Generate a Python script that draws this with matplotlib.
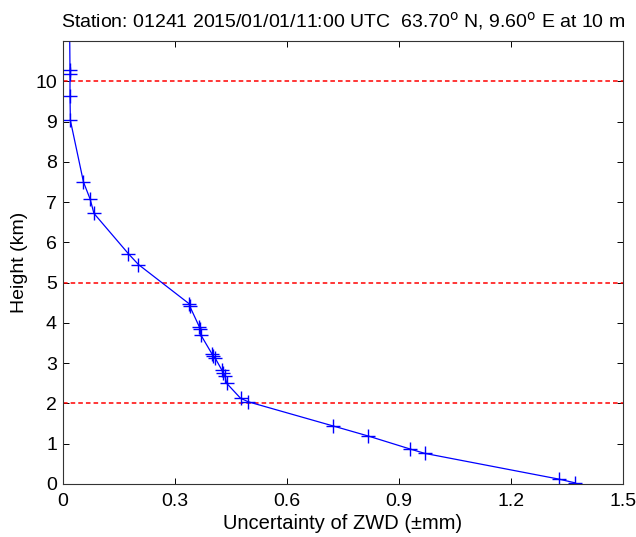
import matplotlib
matplotlib.use("Agg")
import matplotlib.pyplot as plt

# ZWD uncertainty profile
height_km = [11.3, 10.27, 10.18, 9.63, 9.03, 7.50, 7.07, 6.72, 5.72, 5.45,
             4.48, 4.42, 3.90, 3.86, 3.70, 3.24, 3.18, 3.13, 2.83, 2.75,
             2.69, 2.50, 2.13, 2.04, 1.44, 1.19, 0.87, 0.76, 0.12, 0.03]
sigma_zwd = [0.019, 0.020, 0.020, 0.020, 0.021, 0.056, 0.074, 0.084, 0.176, 0.203,
             0.338, 0.340, 0.366, 0.368, 0.370, 0.399, 0.403, 0.408, 0.426, 0.430,
             0.434, 0.439, 0.476, 0.497, 0.724, 0.818, 0.929, 0.969, 1.328, 1.370]
ref_levels = [10, 5, 2]
xticks = [0, 0.3, 0.6, 0.9, 1.2, 1.5]
yticks = list(range(0, 11))

plt.rcParams["font.family"] = ["Liberation Sans", "DejaVu Sans"]

fig = plt.figure(figsize=(6.36, 5.37), dpi=100)
ax = fig.add_axes([0.0983, 0.0987, 0.8820, 0.8249])

for lev in ref_levels:
    ax.axhline(lev, color="#ff0000", ls="--", lw=1.1, dashes=(3, 2))
ax.plot(sigma_zwd, height_km, color="blue", lw=0.9, marker="+",
        ms=9.5, mew=1.0)

ax.set_xlim(0, 1.5)
ax.set_ylim(0, 11)
ax.set_xticks(xticks)
ax.set_xticklabels(["0", "0.3", "0.6", "0.9", "1.2", "1.5"])
ax.set_yticks(yticks)
ax.tick_params(direction="in", top=True, right=True, length=4, width=0.7,
               labelsize=14)
ax.tick_params(axis="x", pad=6.5)
ax.tick_params(axis="y", pad=4)
for s in ax.spines.values():
    s.set_linewidth(0.8)
    s.set_color("#333333")

ax.set_xlabel("Uncertainty of ZWD (\u00b1mm)", fontsize=14.5, labelpad=3)
ax.set_ylabel("Height (km)", fontsize=14, labelpad=5)
ax.set_title("Station: 01241 2015/01/01/11:00 UTC  63.70$^{\\rm o}$ N, "
             "9.60$^{\\rm o}$ E at 10 m", fontsize=14, pad=10)

fig.savefig("out.png", dpi=100)
